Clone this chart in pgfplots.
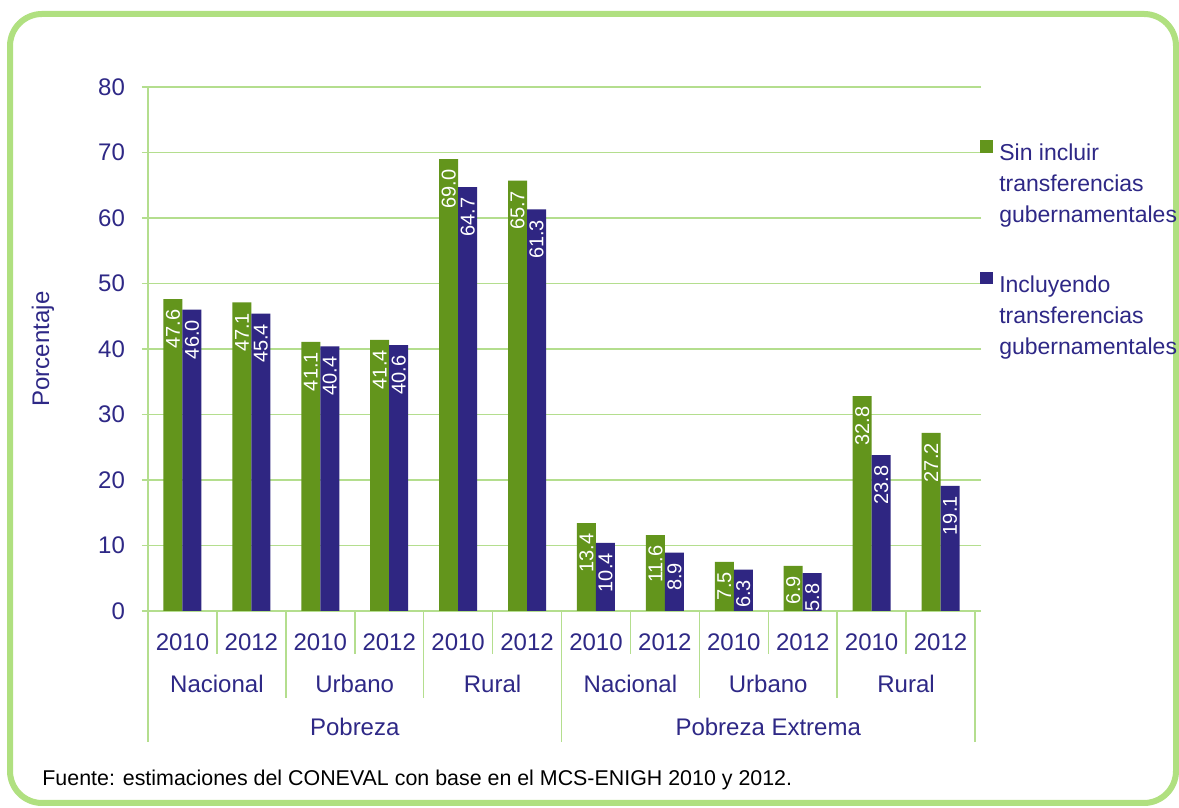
\documentclass[border=0pt]{standalone}
\usepackage{pgfplots}
\pgfplotsset{compat=1.18}
\usepackage{fontspec}
\setmainfont{Liberation Sans}
\definecolor{bgreen}{RGB}{99,149,28}
\definecolor{bnavy}{RGB}{47,38,130}
\definecolor{tnavy}{RGB}{46,40,134}
\definecolor{lgreen}{RGB}{180,222,142}
\definecolor{bordergreen}{RGB}{176,224,128}
\begin{document}
\begin{tikzpicture}
\useasboundingbox (0,0) rectangle (589.5pt,404pt);
\clip (0,0) rectangle (589.5pt,404pt);
\fill[white] (0,0) rectangle (589.5pt,404pt);
\draw[bordergreen, line width=3pt, rounded corners=16pt] (5pt,2.5pt) rectangle (588pt,397pt);
\begin{axis}[
  at={(74pt,98.5pt)}, anchor=south west,
  scale only axis, width=413.5pt, height=262pt,
  xmin=-0.5, xmax=11.5, ymin=0, ymax=80,
  ybar=0pt, bar width=9.5pt,
  clip=false,
  axis line style={draw=none},
  ymajorgrids, grid style={lgreen, line width=0.75pt},
  ytick={0,10,...,80},
  ytick style={lgreen, line width=0.75pt},
  tick align=outside, major tick length=3pt,
  xtick={0,...,11},
  xticklabels={2010,2012,2010,2012,2010,2012,2010,2012,2010,2012,2010,2012},
  xtick style={draw=none},
  tick label style={font=\fontsize{12}{14}\selectfont, text=tnavy},
  xticklabel style={yshift=-5pt},
  yticklabel style={xshift=-5pt},
  /pgf/number format/assume math mode=true,
  ylabel={Porcentaje},
  ylabel style={font=\fontsize{12}{14}\selectfont, text=tnavy, at={(axis description cs:-0.1270,0.5)}, anchor=center},
  nodes near coords={\pgfmathprintnumber[fixed,fixed zerofill,precision=1,assume math mode=true]{\pgfplotspointmeta}},
  nodes near coords style={rotate=90, anchor=east, text=white, font=\fontsize{10}{11}\selectfont, inner xsep=5pt, inner ysep=1pt},
  legend style={at={(rel axis cs:1,0.899)}, anchor=north west, xshift=2.5pt, draw=none, fill=none,
    inner sep=0pt, row sep=53pt, column sep=2pt, font=\fontsize{11.5}{15.5}\selectfont, text=tnavy,
    nodes={inner sep=1.25pt}},
  legend cell align=left,
]
\addplot+[draw=none, fill=bgreen, legend image code/.code={\fill[bgreen] (0pt,0.5pt) rectangle (6.2pt,6.7pt);}] coordinates {
(0,47.6) (1,47.1) (2,41.1) (3,41.4) (4,69.0) (5,65.7)
(6,13.4) (7,11.6) (8,7.5) (9,6.9) (10,32.8) (11,27.2)};
\addlegendentry{\parbox[t]{100pt}{\fontsize{11.5}{15.5}\selectfont Sin incluir\\transferencias\\gubernamentales}}
\addplot+[draw=none, fill=bnavy, legend image code/.code={\fill[bnavy] (0pt,0.5pt) rectangle (6.2pt,6.7pt);}] coordinates {
(0,46.0) (1,45.4) (2,40.4) (3,40.6) (4,64.7) (5,61.3)
(6,10.4) (7,8.9) (8,6.3) (9,5.8) (10,23.8) (11,19.1)};
\addlegendentry{\parbox[t]{100pt}{\fontsize{11.5}{15.5}\selectfont Incluyendo\\transferencias\\gubernamentales}}
% separators
\pgfplotsinvokeforeach{0.5,2.5,4.5,6.5,8.5,10.5}{\draw[lgreen, line width=0.75pt] (axis cs:#1,0) -- ([yshift=-21.5pt]axis cs:#1,0);}
\pgfplotsinvokeforeach{1.5,3.5,7.5,9.5}{\draw[lgreen, line width=0.75pt] (axis cs:#1,0) -- ([yshift=-43.5pt]axis cs:#1,0);}
\draw[lgreen, line width=0.75pt] (axis cs:-0.5,80) -- ([yshift=-65.5pt]axis cs:-0.5,0);
\draw[lgreen, line width=0.75pt] (axis cs:5.5,0) -- ([yshift=-65.5pt]axis cs:5.5,0);
\draw[lgreen, line width=0.75pt] (axis cs:11.5,0) -- ([yshift=-65.5pt]axis cs:11.5,0);
% region labels
\node[text=tnavy, font=\fontsize{12}{14}\selectfont] at (axis cs:0.5,0) [yshift=-36.5pt] {Nacional};
\node[text=tnavy, font=\fontsize{12}{14}\selectfont] at (axis cs:2.5,0) [yshift=-36.5pt] {Urbano};
\node[text=tnavy, font=\fontsize{12}{14}\selectfont] at (axis cs:4.5,0) [yshift=-36.5pt] {Rural};
\node[text=tnavy, font=\fontsize{12}{14}\selectfont] at (axis cs:6.5,0) [yshift=-36.5pt] {Nacional};
\node[text=tnavy, font=\fontsize{12}{14}\selectfont] at (axis cs:8.5,0) [yshift=-36.5pt] {Urbano};
\node[text=tnavy, font=\fontsize{12}{14}\selectfont] at (axis cs:10.5,0) [yshift=-36.5pt] {Rural};
\node[text=tnavy, font=\fontsize{12}{14}\selectfont] at (axis cs:2.5,0) [yshift=-58pt] {Pobreza};
\node[text=tnavy, font=\fontsize{12}{14}\selectfont] at (axis cs:8.5,0) [yshift=-58pt] {Pobreza Extrema};
\end{axis}
\node[anchor=west, font=\fontsize{10.7}{12}\selectfont, inner sep=0pt] at (21pt,14pt) {Fuente: estimaciones del CONEVAL con base en el MCS-ENIGH 2010 y 2012.};
\end{tikzpicture}
\end{document}
